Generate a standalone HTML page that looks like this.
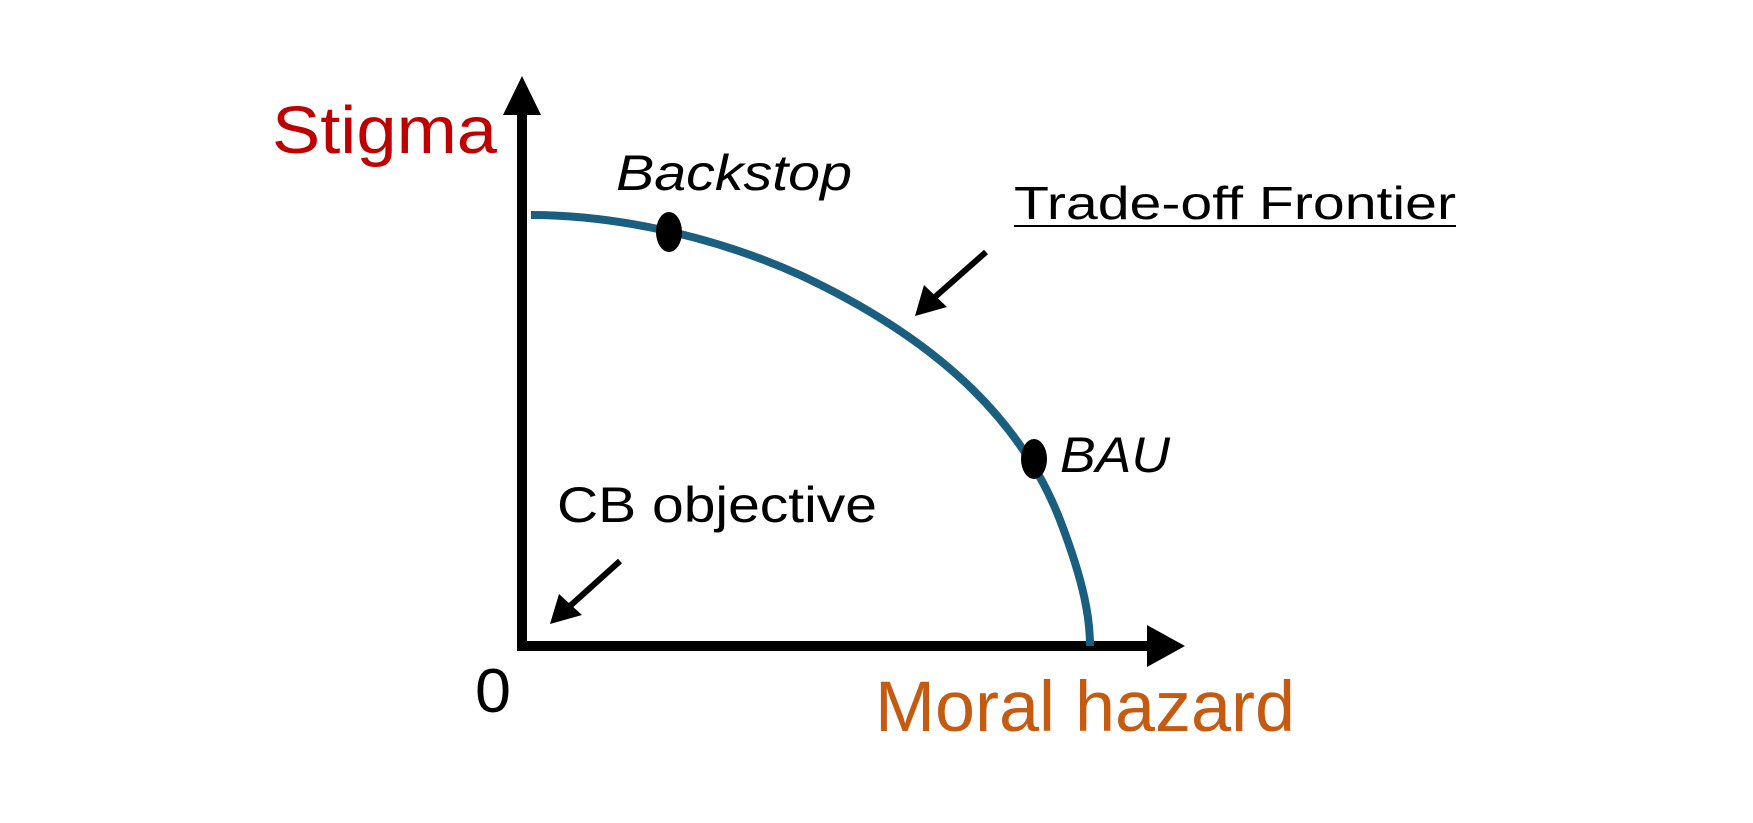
<!DOCTYPE html>
<html><head><style>html,body{margin:0;padding:0;background:#fff}svg{display:block}</style></head>
<body>
<svg width="1753" height="823" viewBox="0 0 1753 823" xmlns="http://www.w3.org/2000/svg" font-family="Liberation Sans, sans-serif">
<!-- axes -->
<line x1="522" y1="650" x2="522" y2="110" stroke="#000" stroke-width="10"/>
<polygon points="522,76 503,115 541,115" fill="#000"/>
<line x1="517" y1="646" x2="1150" y2="646" stroke="#000" stroke-width="10"/>
<polygon points="1185,646 1147,625 1147,667" fill="#000"/>
<!-- frontier -->
<path d="M531,215 C600,215 700,230 800,275 C950,345 1025,430 1060,520 C1085,585 1090,620 1090,646" fill="none" stroke="#1a5e80" stroke-width="8"/>
<ellipse cx="669" cy="232" rx="13" ry="20" fill="#000"/>
<ellipse cx="1034" cy="459" rx="13" ry="20" fill="#000"/>
<!-- arrows -->
<line x1="986" y1="252" x2="935" y2="297" stroke="#000" stroke-width="6"/>
<polygon points="915,316 924,285 947,307" fill="#000"/>
<line x1="620" y1="561" x2="570" y2="606" stroke="#000" stroke-width="6"/>
<polygon points="550,624 559,594 582,615" fill="#000"/>
<!-- labels -->
<text x="272" y="153" font-size="67" fill="#c00000" textLength="225" lengthAdjust="spacingAndGlyphs">Stigma</text>
<text x="616" y="190" font-size="50" font-style="italic" fill="#000" textLength="236" lengthAdjust="spacingAndGlyphs">Backstop</text>
<text x="1014" y="219" font-size="46" fill="#000" textLength="442" lengthAdjust="spacingAndGlyphs">Trade-off Frontier</text>
<line x1="1014" y1="226" x2="1456" y2="226" stroke="#000" stroke-width="2"/>
<text x="1060" y="472" font-size="50" font-style="italic" fill="#000" textLength="110" lengthAdjust="spacingAndGlyphs">BAU</text>
<text x="557" y="522" font-size="50" fill="#000" textLength="320" lengthAdjust="spacingAndGlyphs">CB objective</text>
<text x="475" y="712" font-size="62" fill="#000" textLength="36" lengthAdjust="spacingAndGlyphs">0</text>
<text x="875" y="731" font-size="71" fill="#c55a11" textLength="420" lengthAdjust="spacingAndGlyphs">Moral hazard</text>
</svg>
</body></html>
